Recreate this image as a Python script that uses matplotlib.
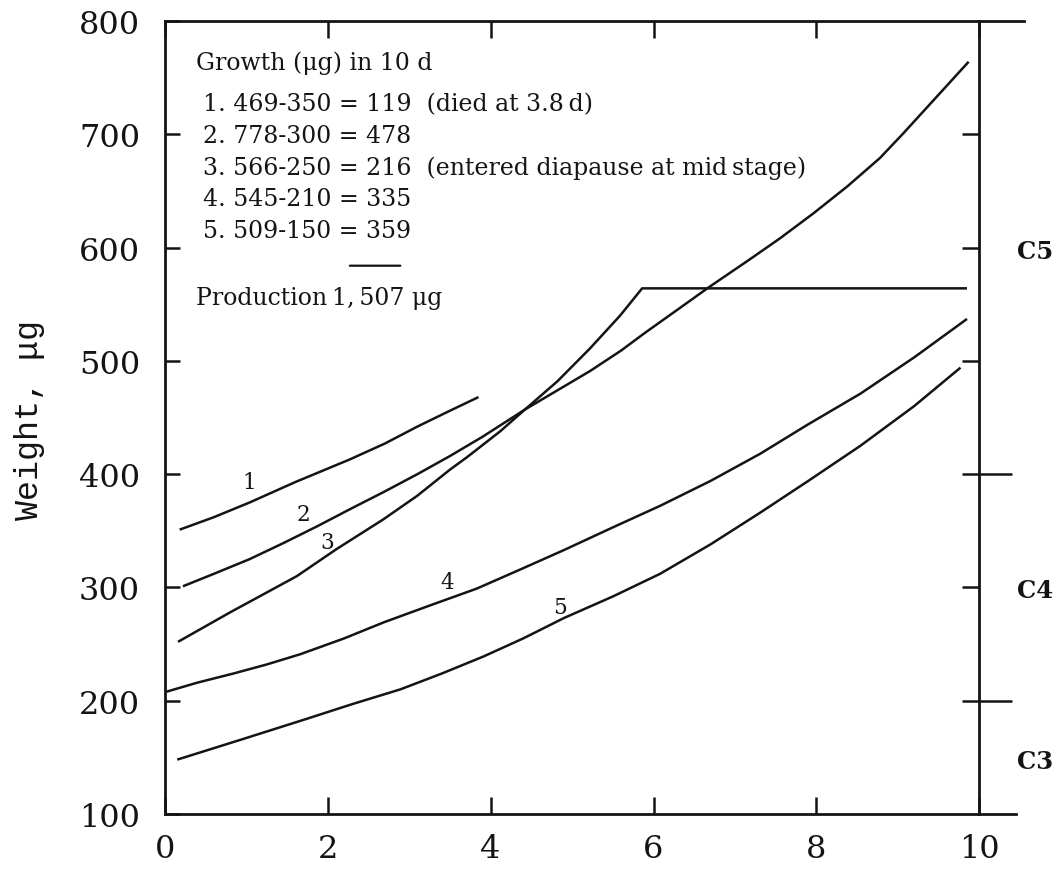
import matplotlib
matplotlib.use("Agg")
import matplotlib.pyplot as plt

# ---- data ----
c1_x = [0.18, 0.6, 1.04, 1.6, 2.27, 2.7, 3.1, 3.5, 3.85]
c1_y = [351, 362, 375, 393, 413, 427, 442, 456, 468]

c2_x = [0.22, 0.6, 1.04, 1.45, 1.87, 2.27, 2.68, 3.1, 3.5, 3.9, 4.42, 4.82, 5.22,
        5.6, 5.9, 6.33, 6.7, 7.15, 7.55, 7.96, 8.38, 8.78, 9.07, 9.4, 9.87]
c2_y = [301, 312, 325, 339, 354, 369, 384, 400, 416, 433, 457, 474, 491,
        509, 525, 547, 566, 588, 608, 630, 654, 679, 701, 727, 764]

c3_x = [0.16, 0.8, 1.62, 2.11, 2.68, 3.1, 3.5, 3.71, 4.12, 4.42, 4.82, 5.22, 5.59, 5.86, 9.85]
c3_y = [252, 278, 310, 334, 360, 381, 404, 415, 438, 457, 482, 511, 540, 564, 564]

c4_x = [0.02, 0.4, 0.84, 1.25, 1.66, 2.2, 2.68, 3.25, 3.83, 4.4, 4.9, 5.5, 6.08, 6.7, 7.31, 7.9, 8.54, 9.2, 9.85]
c4_y = [208, 216, 224, 232, 241, 255, 269, 284, 299, 317, 333, 353, 372, 394, 418, 444, 471, 503, 537]

c5_x = [0.15, 0.95, 1.74, 2.3, 2.89, 3.4, 3.91, 4.4, 4.9, 5.5, 6.08, 6.7, 7.31, 7.9, 8.54, 9.2, 9.77]
c5_y = [148, 166, 184, 197, 210, 224, 239, 255, 273, 292, 312, 338, 366, 394, 425, 460, 494]

curves = [(c1_x, c1_y), (c2_x, c2_y), (c3_x, c3_y), (c4_x, c4_y), (c5_x, c5_y)]
curve_labels = ["1", "2", "3", "4", "5"]
curve_label_pos = [(1.04, 393), (1.70, 365), (1.99, 340), (3.46, 305), (4.85, 283)]

x_ticks = [0, 2, 4, 6, 8, 10]
y_ticks = [100, 200, 300, 400, 500, 600, 700, 800]
right_in_ticks = [200, 300, 400, 500, 600, 700]
right_out_ticks = [200, 400]
stage_labels = ["C5", "C4", "C3"]
stage_pos = [597, 298, 147]

title_line = "Growth (\u03bcg) in 10 d"
growth_lines = [
    "1. 469-350 = 119  (died at 3.8\u2009d)",
    "2. 778-300 = 478",
    "3. 566-250 = 216  (entered diapause at mid\u2009stage)",
    "4. 545-210 = 335",
    "5. 509-150 = 359",
]
production_line = "Production\u20091,\u2009507 \u03bcg"

# ---- figure ----
serif = ["DejaVu Serif"]
fig = plt.figure(figsize=(10.58, 8.7), dpi=100)
ax = fig.add_axes([165 / 1058, 55 / 870, (1024 - 165) / 1058, (815 - 22) / 870])
ax.set_xlim(0, 10.55)
ax.set_ylim(100, 800)

ink = "#141414"
for (xs, ys) in curves:
    ax.plot(xs, ys, color=ink, lw=1.8, solid_joinstyle="round", solid_capstyle="butt")

for lab, (lx, ly) in zip(curve_labels, curve_label_pos):
    ax.text(lx, ly, lab, fontsize=15.5, family=serif, ha="center", va="center", color=ink)

# spines
ax.spines["right"].set_visible(False)
for s in ["left", "top", "bottom"]:
    ax.spines[s].set_linewidth(2.0)
    ax.spines[s].set_color(ink)
ax.spines["bottom"].set_bounds(0, 10.45)

ax.set_xticks(x_ticks)
ax.set_xticklabels([str(v) for v in x_ticks])
ax.set_yticks(y_ticks)
ax.set_yticklabels([str(v) for v in y_ticks])
ax.tick_params(axis="x", direction="in", length=12, width=1.8, top=True, bottom=True,
               labelsize=23, pad=14, color=ink, labelcolor=ink)
ax.tick_params(axis="y", direction="in", length=11, width=1.8, left=True, right=False,
               labelsize=23, pad=18, color=ink, labelcolor=ink)
for t in ax.get_xticklabels() + ax.get_yticklabels():
    t.set_family(serif)

# right stage axis at x = 10
ax2 = ax.twinx()
ax2.set_ylim(100, 800)
for s in ["left", "top", "bottom"]:
    ax2.spines[s].set_visible(False)
ax2.spines["right"].set_position(("data", 10))
ax2.spines["right"].set_linewidth(2.0)
ax2.spines["right"].set_color(ink)
ax2.spines["right"].set_bounds(100, 800)
ax2.yaxis.remove_overlapping_locs = False
ax2.set_yticks(right_in_ticks)
ax2.set_yticks(right_out_ticks, minor=True)
ax2.tick_params(axis="y", which="major", direction="in", length=12, width=1.8,
                labelright=False, color=ink)
ax2.tick_params(axis="y", which="minor", direction="out", length=24, width=1.8,
                labelright=False, color=ink)

for lab, v in zip(stage_labels, stage_pos):
    ax.text(10.47, v, lab, fontsize=17.5, family=serif, fontweight="bold",
            ha="left", va="center", color=ink, clip_on=False)

# annotation block
fs = 17
ax.text(0.38, 764, title_line, fontsize=fs, family=serif, ha="left", va="center", color=ink)
for i, line in enumerate(growth_lines):
    ax.text(0.47, 727 - 28 * i, line, fontsize=fs, family=serif, ha="left", va="center", color=ink)
ax.annotate("", xy=(2.89, 584), xytext=(2.27, 584),
            arrowprops=dict(arrowstyle="-", lw=1.6, color=ink, shrinkA=0, shrinkB=0))
ax.text(0.38, 556, production_line, fontsize=fs, family=serif, ha="left", va="center", color=ink)

fig.text(30 / 1058, 1 - 420 / 870, "Weight, \u03bcg", rotation=90, fontsize=24,
         family=["Liberation Mono", "DejaVu Sans Mono"], ha="center", va="center", color=ink)

fig.savefig("out.png", dpi=100, facecolor="white")
